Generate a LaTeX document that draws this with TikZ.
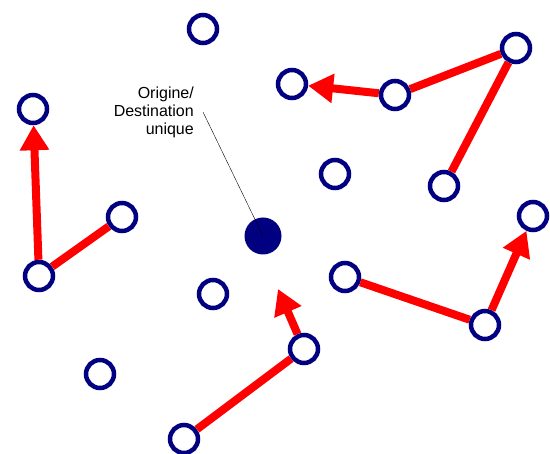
\documentclass[tikz,border=0pt]{standalone}
\usepackage{fontspec}
\setmainfont{Liberation Sans}
\usepackage{tikz}
\usetikzlibrary{arrows.meta}

\definecolor{navy}{RGB}{0,0,128}

\begin{document}
\begin{tikzpicture}[x=1pt,y=-1pt]
	\useasboundingbox (0,0) rectangle (550,454);
	\begin{scope}[every node/.style = {circle, draw=navy, line width=4.5pt,
		fill=white, minimum size=28pt, inner sep=0pt}]
		\node (p1) at (203,29) {};
		\node (p2) at (292,84) {};
		\node (p3) at (395,95) {};
		\node (p4) at (516,48) {};
		\node (p5) at (33,109) {};
		\node (p6) at (335,174) {};
		\node (p7) at (444,186) {};
		\node (p8) at (122,217) {};
		\node (p10) at (533,216) {};
		\node (p11) at (39,276) {};
		\node (p12) at (345,277) {};
		\node (p13) at (213,294) {};
		\node (p14) at (485,325) {};
		\node (p15) at (304,349) {};
		\node (p16) at (100,374) {};
		\node (p17) at (184,439) {};
	\end{scope}
	\node [circle, fill=navy, minimum size=37pt, inner sep=0pt] (hub) at (263,236) {};
	\coordinate (tip) at (278,289);
	\node [align=right, anchor=east, inner sep=0pt, font=\fontsize{16}{18}\selectfont] (lab) at (194,112)
		{Origine/\\Destination\\unique};
	\draw [thin] ([xshift=9pt]lab.east) -- (hub.center);
	\begin{scope}[>={Triangle[length=25pt, width=28pt]},
			every edge/.style={draw=red, line width=8pt}]
		\path [->] (p11) edge (p5);
		\path [-] (p8) edge (p11);
		\path [->] (p3) edge (p2);
		\path [-] (p4) edge (p3);
		\path [-] (p7) edge (p4);
		\path [-] (p12) edge (p14);
		\path [->] (p14) edge (p10);
		\path [-] (p17) edge (p15);
		\path [->] (p15) edge (tip);
	\end{scope}
\end{tikzpicture}
\end{document}
